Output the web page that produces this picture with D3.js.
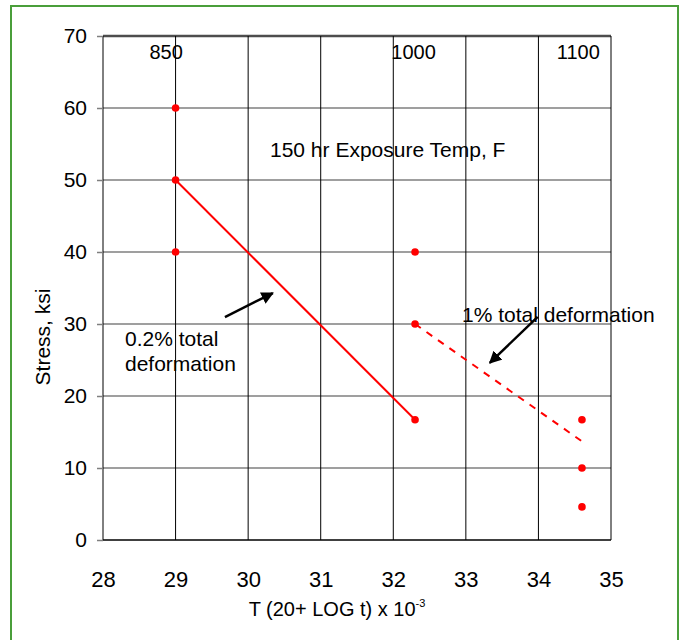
<!DOCTYPE html>
<html>
<head>
<meta charset="utf-8">
<script src="https://cdn.jsdelivr.net/npm/d3@7"></script>
<style>
  body { margin: 0; background: #fff; }
  svg { display: block; font-family: 'Liberation Sans', Arial, sans-serif; }
</style>
</head>
<body>
<div id="chart-area"></div>
<script>
// exposure temperatures (F) and where their labels sit along the x axis
const tempLabels = ['850', '1000', '1100'];
const tempLabelX = [28.87, 32.28, 34.55];

// measured points: larson-miller parameter and stress
const pointX = [29, 29, 29, 32.3, 32.3, 32.3, 34.6, 34.6, 34.6];
const pointStress = [60, 50, 40, 40, 30, 16.7, 16.7, 10, 4.6];

// 0.2% total deformation (solid) and 1% total deformation (dashed)
const line02X = [29, 32.3];
const line02Y = [50, 16.7];
const line1X = [32.3, 34.6];
const line1Y = [30, 13.7];

// annotation arrows [x0, y0, x1, y1] in data units
const arrow02 = [29.68, 30.97, 30.34, 34.3];
const arrow1 = [33.99, 31.0, 33.33, 24.6];

const xTicks = [28, 29, 30, 31, 32, 33, 34, 35];
const yTicks = [0, 10, 20, 30, 40, 50, 60, 70];

const width = 685;
const height = 640;

const x = d3.scaleLinear().domain([28, 35]).range([103, 611]);
const y = d3.scaleLinear().domain([0, 70]).range([540, 36]);

const svg = d3
  .select('#chart-area')
  .append('svg')
  .attr('width', width)
  .attr('height', height);

svg.append('rect').attr('width', width).attr('height', height).attr('fill', '#fff');

// green frame
svg
  .append('rect')
  .attr('x', 11)
  .attr('y', 6)
  .attr('width', 667)
  .attr('height', 660)
  .attr('fill', 'none')
  .attr('stroke', '#4a9e3a')
  .attr('stroke-width', 2);

svg
  .append('defs')
  .append('marker')
  .attr('id', 'head')
  .attr('viewBox', '0 0 10 10')
  .attr('refX', 9)
  .attr('refY', 5)
  .attr('markerWidth', 5)
  .attr('markerHeight', 5)
  .attr('markerUnits', 'strokeWidth')
  .attr('orient', 'auto')
  .append('path')
  .attr('d', 'M0,0 L10,5 L0,10 z')
  .attr('fill', '#000');

//horizontal grid
svg
  .append('g')
  .selectAll('line')
  .data(yTicks.filter((d) => d > 0))
  .enter()
  .append('line')
  .attr('x1', x(28))
  .attr('x2', x(35))
  .attr('y1', (d) => y(d))
  .attr('y2', (d) => y(d))
  .attr('stroke', (d) => (d === 70 ? '#4d4d4d' : '#7f7f7f'))
  .attr('stroke-width', (d) => (d === 70 ? 2.5 : 1.5));

//vertical grid
svg
  .append('g')
  .selectAll('line')
  .data(xTicks)
  .enter()
  .append('line')
  .attr('x1', (d) => x(d))
  .attr('x2', (d) => x(d))
  .attr('y1', y(70))
  .attr('y2', y(0))
  .attr('stroke', '#000')
  .attr('stroke-width', 1);

// x axis line
svg
  .append('line')
  .attr('x1', x(28))
  .attr('x2', x(35))
  .attr('y1', y(0))
  .attr('y2', y(0))
  .attr('stroke', '#000')
  .attr('stroke-width', 1.5);

// y axis
const yAxis = d3.axisLeft(y).tickValues(yTicks).tickSize(6).tickPadding(10);
const yG = svg.append('g').attr('transform', `translate(${x(28)},0)`).call(yAxis);
yG.select('.domain').remove();
yG.selectAll('.tick line').attr('stroke', '#7f7f7f').attr('stroke-width', 1.5);
yG.selectAll('.tick text')
  .attr('fill', '#000')
  .style('font-size', '21px')
  .style('font-family', "'Liberation Sans', Arial, sans-serif");

// x axis
const xAxis = d3
  .axisBottom(x)
  .tickValues(xTicks)
  .tickSize(0)
  .tickFormat(d3.format('d'));
const xG = svg.append('g').attr('transform', `translate(0,${y(0)})`).call(xAxis);
xG.select('.domain').remove();
xG.selectAll('.tick text')
  .attr('fill', '#000')
  .attr('dy', 0)
  .attr('y', 47)
  .style('font-size', '22px')
  .style('font-family', "'Liberation Sans', Arial, sans-serif");

// axis titles
const xTitle = svg
  .append('text')
  .attr('x', 337)
  .attr('y', 616)
  .attr('text-anchor', 'middle')
  .style('font-size', '20px');
xTitle.append('tspan').text('T (20+ LOG t) x 10');
xTitle.append('tspan').attr('dy', -9).style('font-size', '11px').text('-3');

svg
  .append('text')
  .attr('transform', 'translate(50,337) rotate(-90)')
  .attr('text-anchor', 'middle')
  .style('font-size', '21px')
  .text('Stress, ksi');

// temperature labels along the top
svg
  .append('g')
  .selectAll('text')
  .data(tempLabels)
  .enter()
  .append('text')
  .attr('x', (d, i) => x(tempLabelX[i]))
  .attr('y', 59)
  .attr('text-anchor', 'middle')
  .style('font-size', '20px')
  .text((d) => d);

svg
  .append('text')
  .attr('x', 270)
  .attr('y', 157)
  .style('font-size', '21px')
  .text('150 hr Exposure Temp, F');

// deformation lines
const lineGen = d3
  .line()
  .x((d) => x(d[0]))
  .y((d) => y(d[1]));

svg
  .append('path')
  .datum(line02X.map((d, i) => [d, line02Y[i]]))
  .attr('d', lineGen)
  .attr('fill', 'none')
  .attr('stroke', '#ff0000')
  .attr('stroke-width', 2);

svg
  .append('path')
  .datum(line1X.map((d, i) => [d, line1Y[i]]))
  .attr('d', lineGen)
  .attr('fill', 'none')
  .attr('stroke', '#ff0000')
  .attr('stroke-width', 2)
  .attr('stroke-dasharray', '7,7');

// points
svg
  .append('g')
  .selectAll('circle')
  .data(pointX)
  .enter()
  .append('circle')
  .attr('cx', (d) => x(d))
  .attr('cy', (d, i) => y(pointStress[i]))
  .attr('r', 3.8)
  .attr('fill', '#ff0000');

// arrows
svg
  .append('g')
  .selectAll('line')
  .data([arrow02, arrow1])
  .enter()
  .append('line')
  .attr('x1', (d) => x(d[0]))
  .attr('y1', (d) => y(d[1]))
  .attr('x2', (d) => x(d[2]))
  .attr('y2', (d) => y(d[3]))
  .attr('stroke', '#000')
  .attr('stroke-width', 2.5)
  .attr('marker-end', 'url(#head)');

// annotation text
const note02 = svg.append('text').style('font-size', '21px');
note02.append('tspan').attr('x', 125).attr('y', 346).text('0.2% total');
note02.append('tspan').attr('x', 125).attr('y', 371).text('deformation');

svg
  .append('text')
  .attr('x', 462)
  .attr('y', 322)
  .style('font-size', '21px')
  .text('1% total deformation');
</script>
</body>
</html>
